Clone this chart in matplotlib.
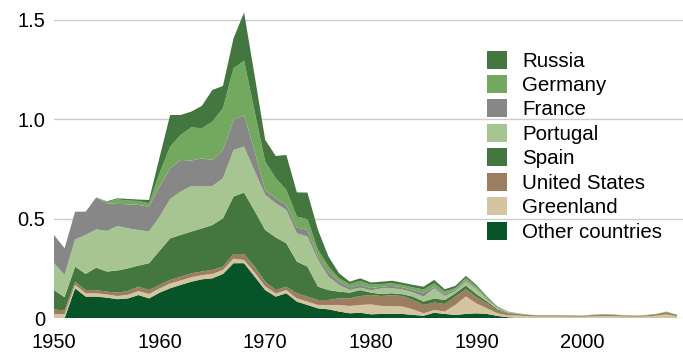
import numpy as np
import matplotlib
matplotlib.use("Agg")
import matplotlib.pyplot as plt

plt.rcParams['font.family'] = ['Liberation Sans', 'DejaVu Sans']

years = list(range(1950, 2010))

# layer thickness per year, bottom layer first
other = [0, 0, .151, .109, .109, .104, .096, .100, .117, .100,
         .129, .151, .168, .184, .196, .201, .223, .277, .277, .210,
         .142, .109, .126, .084, .067, .050, .045, .034, .025, .028,
         .020, .022, .022, .022, .017, .013, .028, .022, .017, .022,
         .025, .022, .012, .005, .002, .001, .001, .001, .001, .001,
         .001, .001, .001, .001, .001, .001, .001, .001, .001, .001]
greenland = [.022, .020, .017, .017, .017, .016, .016, .018, .020, .022,
             .021, .024, .022, .022, .021, .022, .020, .023, .016, .020,
             .018, .016, .016, .016, .017, .017, .022, .033, .037, .039,
             .050, .040, .040, .037, .028, .012, .014, .012, .050, .088,
             .050, .028, .013, .010, .012, .009, .008, .008, .008, .007,
             .007, .009, .011, .010, .008, .007, .008, .012, .019, .009]
united_states = [.023, .019, .016, .016, .016, .014, .017, .019, .022, .020,
                 .018, .018, .019, .020, .018, .020, .017, .023, .030, .030,
                 .024, .017, .017, .026, .025, .025, .025, .033, .038, .045,
                 .047, .050, .054, .053, .047, .042, .037, .038, .042, .036,
                 .031, .025, .014, .010, .008, .006, .005, .005, .005, .005,
                 .004, .006, .007, .006, .005, .004, .005, .007, .011, .006]
spain = [.097, .067, .076, .081, .113, .101, .111, .114, .106, .135,
         .172, .209, .210, .210, .217, .226, .243, .289, .309, .280,
         .260, .265, .218, .159, .151, .067, .050, .034, .029, .030,
         .012, .010, .010, .009, .017, .017, .021, .020, .017, .019,
         .016, .010, .006, .003, .001, .001, .001, .001, .001, .001,
         .001, .001, .001, .001, .001, .001, .001, .001, .001, .001]
portugal = [.135, .112, .137, .196, .192, .204, .224, .201, .179, .159,
            .171, .198, .218, .229, .213, .196, .201, .234, .231, .200,
            .176, .171, .168, .142, .151, .134, .067, .034, .013, .012,
            .012, .028, .025, .024, .021, .025, .051, .020, .009, .020,
            .024, .007, .004, .002, .001, 0, 0, 0, 0, 0,
            0, 0, 0, 0, 0, 0, 0, 0, 0, 0]
france = [.142, .134, .139, .117, .161, .139, .111, .121, .126, .125,
          .151, .154, .159, .128, .139, .131, .142, .151, .159, .100,
          .025, .025, .025, .030, .033, .017, .026, .016, .014, .014,
          .011, .009, .012, .011, .012, .020, .008, .010, .007, .008,
          .006, .005, .003, .001, 0, 0, 0, 0, 0, 0,
          0, 0, 0, 0, 0, 0, 0, 0, 0, 0]
germany = [0, 0, 0, 0, 0, .007, .023, .019, .020, .017,
           .068, .109, .126, .167, .151, .193, .210, .260, .273, .200,
           .143, .101, .075, .054, .054, .034, .025, .017, .016, .020,
           .017, .013, .013, .012, .013, .016, .017, .013, .010, .010,
           .008, .006, .004, .002, .001, .001, .001, .001, .001, .001,
           .001, .001, .001, .001, .001, .001, .001, .001, .002, .001]
russia = [0, 0, 0, 0, 0, .003, .005, .008, .007, .017,
          .080, .159, .100, .079, .113, .159, .112, .151, .242, .180,
          .109, .112, .176, .122, .134, .100, .050, .025, .012, .013,
          .011, .012, .013, .011, .013, .014, .017, .011, .011, .010,
          .008, .006, .003, .001, 0, 0, 0, 0, 0, 0,
          0, 0, 0, 0, 0, 0, 0, 0, 0, 0]

labels = ['Other countries', 'Greenland', 'United States', 'Spain',
          'Portugal', 'France', 'Germany', 'Russia']
colors = ['#065427', '#d4c5a0', '#9c7d5f', '#44773f',
          '#a7c591', '#878787', '#73a95f', '#44773f']

fig = plt.figure(figsize=(6.83, 3.62), dpi=100)
ax = fig.add_axes([54 / 683, 43.7 / 362, 629 / 683, 318.3 / 362])

ax.stackplot(years, other, greenland, united_states, spain, portugal,
             france, germany, russia, labels=labels, colors=colors,
             linewidth=0, zorder=2)

ax.set_xlim(1950, 1950 + 629 / 10.56)
ax.set_ylim(0, 1.6)
ax.set_yticks([0, 0.5, 1.0, 1.5])
ax.set_yticklabels(['0', '0.5', '1.0', '1.5'])
ax.set_xticks([1950, 1960, 1970, 1980, 1990, 2000])
ax.tick_params(axis='y', length=0, pad=6.5, labelsize=14.5)
ax.tick_params(axis='x', length=0, pad=10.5, labelsize=14.5)
ax.yaxis.grid(True, color='#cccccc', linewidth=1, zorder=0)
ax.set_axisbelow(True)
for s in ax.spines.values():
    s.set_visible(False)

h, l = ax.get_legend_handles_labels()
ax.legend(h[::-1], l[::-1], loc='upper left', frameon=False,
          bbox_to_anchor=(487 / 683, 1 - 50.5 / 362), bbox_transform=fig.transFigure,
          borderpad=0, borderaxespad=0, fontsize=14.8, handlelength=0.98,
          handleheight=0.98, handletextpad=0.72, labelspacing=0.21)

fig.savefig('out.png', dpi=100)
